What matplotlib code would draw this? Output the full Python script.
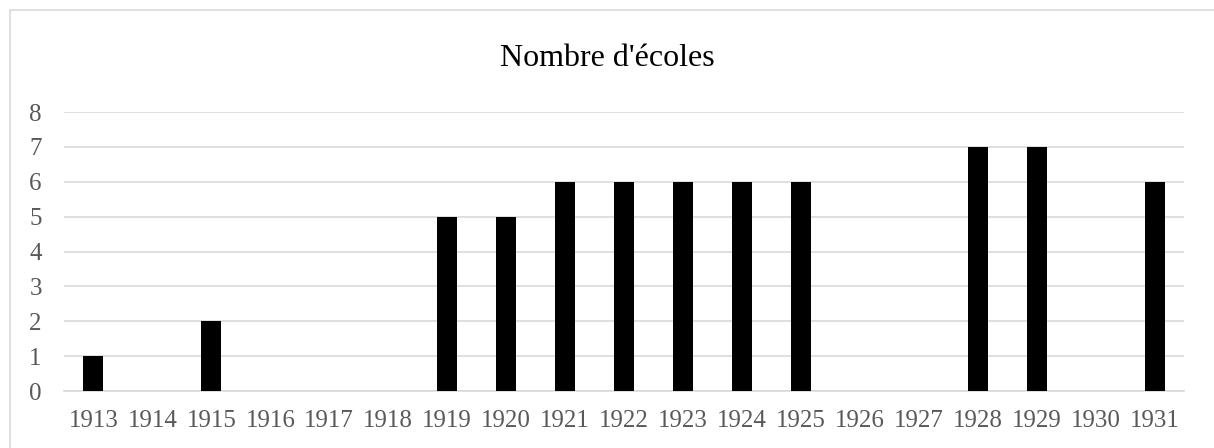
import matplotlib.pyplot as plt
from matplotlib.patches import Rectangle

# --------------------
# Data
# --------------------
years = [str(y) for y in range(1913, 1932)]
schools = [1, 0, 2, 0, 0, 0, 5, 5, 6, 6, 6, 6, 6, 0, 0, 7, 7, 0, 6]

plt.rcParams["font.family"] = ["Liberation Serif", "DejaVu Serif"]

fig = plt.figure(figsize=(12.14, 4.48), dpi=100)
ax = fig.add_axes([64 / 1214, 1 - 391 / 448, 1120 / 1214, 279 / 448])

ax.bar(years, schools, width=0.34, color="black", zorder=3)

ax.set_ylim(0, 8)
ax.set_xlim(-0.5, len(years) - 0.5)
ax.set_yticks(range(0, 9))
ax.yaxis.grid(True, color="#d9d9d9", linewidth=1.2, zorder=0)

for s in ax.spines.values():
    s.set_visible(False)
ax.spines["bottom"].set_visible(True)
ax.spines["bottom"].set_color("#d9d9d9")
ax.spines["bottom"].set_linewidth(1.2)

ax.tick_params(axis="both", length=0, labelsize=18, colors="#595959")
ax.tick_params(axis="x", pad=14)
ax.tick_params(axis="y", pad=16)

fig.text(0.5, 1 - 66 / 448, "Nombre d'écoles", ha="center", va="baseline",
         fontsize=23, color="black")

# chart border
fig.patches.append(Rectangle((10 / 1214, -0.1), 1.2, 1 - 10 / 448 + 0.1,
                             transform=fig.transFigure, fill=False,
                             edgecolor="#d9d9d9", linewidth=1.2))

fig.savefig("out.png", dpi=100)
